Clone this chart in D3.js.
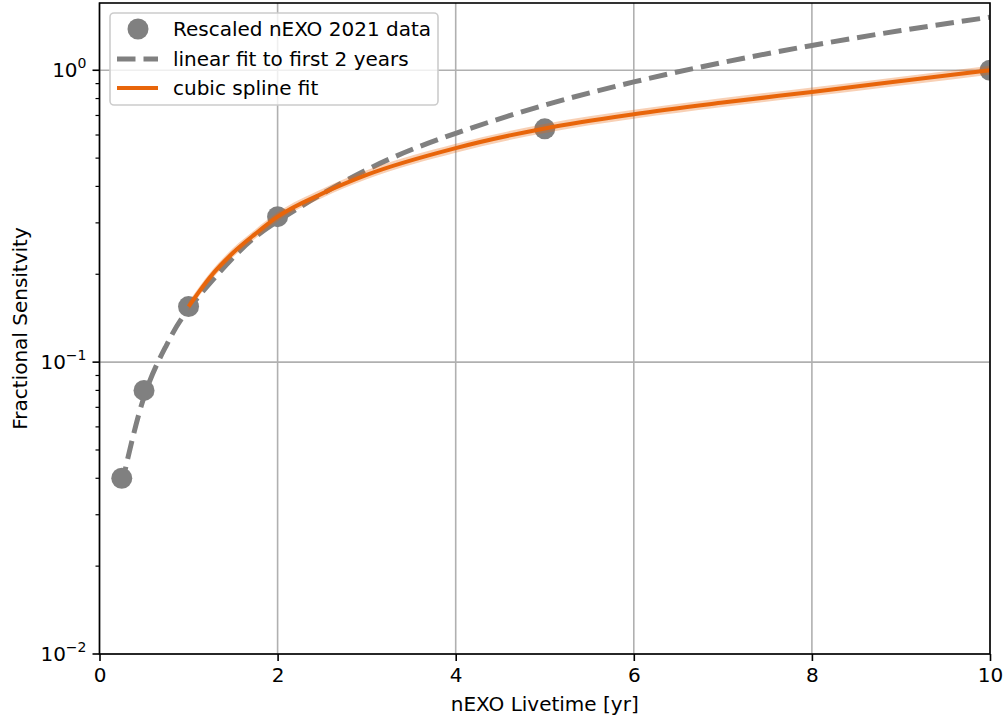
<!DOCTYPE html>
<html>
<head>
<meta charset="utf-8">
<script src="https://cdn.jsdelivr.net/npm/d3@7"></script>
<style>
  html, body { margin: 0; padding: 0; background: #fff; }
  svg { display: block; font-family: "DejaVu Sans", sans-serif; }
</style>
</head>
<body>
<svg id="chart" width="1006" height="719"></svg>
<script>
// ---- data ----
const dataX = [0.25, 0.5, 1, 2, 5, 10];
const dataY = [0.04, 0.08, 0.155, 0.315, 0.63, 1.0];

const linX = [0.25, 0.5, 0.75, 1, 1.5, 2, 3, 4, 5, 6, 7, 8, 9, 10];
const linY = [0.038, 0.076, 0.114, 0.152, 0.228, 0.304, 0.456, 0.608, 0.76, 0.912, 1.064, 1.216, 1.368, 1.52];

const splX = [1, 1.25, 1.5, 1.75, 2, 2.5, 3, 4, 5, 6, 7, 8, 9, 10];
const splY = [0.155, 0.197, 0.237, 0.275, 0.315, 0.378, 0.438, 0.541, 0.632, 0.707, 0.775, 0.843, 0.918, 1.0];
const splLo = [0.150, 0.190, 0.229, 0.265, 0.304, 0.365, 0.423, 0.522, 0.610, 0.682, 0.748, 0.814, 0.886, 0.965];
const splHi = [0.161, 0.204, 0.246, 0.285, 0.326, 0.392, 0.454, 0.560, 0.655, 0.732, 0.803, 0.873, 0.951, 1.036];

const xTicks = [0, 2, 4, 6, 8, 10];
const yTicks = [0.01, 0.1, 1];
const yTickExp = ["\u22122", "\u22121", "0"];
const legendLabels = ["Rescaled nEXO 2021 data", "linear fit to first 2 years", "cubic spline fit"];
const xLabel = "nEXO Livetime [yr]";
const yLabel = "Fractional Sensitvity";

// ---- layout ----
const L = 99.5, R = 990, T = 3, B = 654;
const gray = "#808080", orange = "#e8650a";

const svg = d3.select("#chart");
const x = d3.scaleLinear().domain([0, 10]).range([L, R]);
const y = d3.scaleLog().domain([0.01, 1.7]).range([B, T]);

svg.append("defs").append("clipPath").attr("id", "clip")
  .append("rect").attr("x", L).attr("y", T).attr("width", R - L).attr("height", B - T);

// grid
const grid = svg.append("g");
grid.selectAll("line.gx").data(xTicks).join("line")
  .attr("x1", d => x(d)).attr("x2", d => x(d)).attr("y1", T).attr("y2", B)
  .attr("stroke", "#b0b0b0").attr("stroke-width", 1.6);
grid.selectAll("line.gy").data(yTicks).join("line")
  .attr("x1", L).attr("x2", R).attr("y1", d => y(d)).attr("y2", d => y(d))
  .attr("stroke", "#b0b0b0").attr("stroke-width", 1.6);

const plot = svg.append("g").attr("clip-path", "url(#clip)");

// linear fit dashed
const linPts = linX.map((v, i) => [v, linY[i]]);
plot.append("path").datum(linPts)
  .attr("d", d3.line().x(d => x(d[0])).y(d => y(d[1])).curve(d3.curveNatural))
  .attr("fill", "none").attr("stroke", gray).attr("stroke-width", 5)
  .attr("stroke-dasharray", "18.5,8");

// data points
plot.selectAll("circle.pt").data(dataX.map((v, i) => [v, dataY[i]])).join("circle")
  .attr("cx", d => x(d[0])).attr("cy", d => y(d[1])).attr("r", 10.5).attr("fill", gray);

// spline band
const bandPts = splX.map((v, i) => [v, splLo[i], splHi[i]]);
plot.append("path").datum(bandPts)
  .attr("d", d3.area().x(d => x(d[0])).y0(d => y(d[1])).y1(d => y(d[2])).curve(d3.curveMonotoneX))
  .attr("fill", orange).attr("fill-opacity", 0.3);

// spline line
const splPts = splX.map((v, i) => [v, splY[i]]);
plot.append("path").datum(splPts)
  .attr("d", d3.line().x(d => x(d[0])).y(d => y(d[1])).curve(d3.curveMonotoneX))
  .attr("fill", "none").attr("stroke", orange).attr("stroke-width", 4);

// axes
const xAxis = d3.axisBottom(x).tickValues(xTicks).tickSize(7).tickPadding(7).tickFormat(d3.format("d"));
const gx = svg.append("g").attr("transform", `translate(0,${B})`).call(xAxis);
gx.select(".domain").remove();
gx.selectAll(".tick line").attr("stroke", "#000").attr("stroke-width", 1.6);
gx.selectAll(".tick text").attr("font-size", 20).attr("font-family", "DejaVu Sans").attr("fill", "#000");

// y minor ticks
const minor = [];
[0.01, 0.1, 1].forEach(dec => { for (let k = 2; k <= 9; k++) { const v = dec * k; if (v <= 1.7) minor.push(v); } });
svg.append("g").selectAll("line").data(minor).join("line")
  .attr("x1", L - 4).attr("x2", L).attr("y1", d => y(d)).attr("y2", d => y(d))
  .attr("stroke", "#000").attr("stroke-width", 1.2);
// y major ticks
const gy = svg.append("g");
gy.selectAll("line").data(yTicks).join("line")
  .attr("x1", L - 7).attr("x2", L).attr("y1", d => y(d)).attr("y2", d => y(d))
  .attr("stroke", "#000").attr("stroke-width", 1.6);
const yt = gy.selectAll("text").data(yTicks).join("text")
  .attr("x", L - 13).attr("y", d => y(d) + 7)
  .attr("text-anchor", "end").attr("font-size", 20).attr("fill", "#000");
yt.append("tspan").text("10");
yt.append("tspan").attr("dy", -9).attr("font-size", 14).text((d, i) => yTickExp[i]);

// frame
svg.append("rect").attr("x", L).attr("y", T).attr("width", R - L).attr("height", B - T)
  .attr("fill", "none").attr("stroke", "#000").attr("stroke-width", 1.6);

// labels
svg.append("text").attr("x", (L + R) / 2).attr("y", 711).attr("text-anchor", "middle")
  .attr("font-size", 20).attr("fill", "#000").text(xLabel);
svg.append("text").attr("transform", `translate(27,${(T + B) / 2}) rotate(-90)`)
  .attr("text-anchor", "middle").attr("font-size", 20).attr("fill", "#000").text(yLabel);

// legend
const lg = svg.append("g");
lg.append("rect").attr("x", 110).attr("y", 13).attr("width", 328).attr("height", 92).attr("rx", 4)
  .attr("fill", "#fff").attr("fill-opacity", 0.8).attr("stroke", "#cccccc").attr("stroke-width", 1.6);
const rowY = [29, 59, 88];
lg.append("circle").attr("cx", 138).attr("cy", rowY[0]).attr("r", 10.5).attr("fill", gray);
lg.append("line").attr("x1", 117).attr("x2", 158).attr("y1", rowY[1]).attr("y2", rowY[1])
  .attr("stroke", gray).attr("stroke-width", 5).attr("stroke-dasharray", "18.5,8");
lg.append("line").attr("x1", 117).attr("x2", 158).attr("y1", rowY[2]).attr("y2", rowY[2])
  .attr("stroke", orange).attr("stroke-width", 4);
lg.selectAll("text").data(legendLabels).join("text")
  .attr("x", 173).attr("y", (d, i) => rowY[i] + 7).attr("font-size", 20).attr("fill", "#000").text(d => d);
</script>
</body>
</html>
